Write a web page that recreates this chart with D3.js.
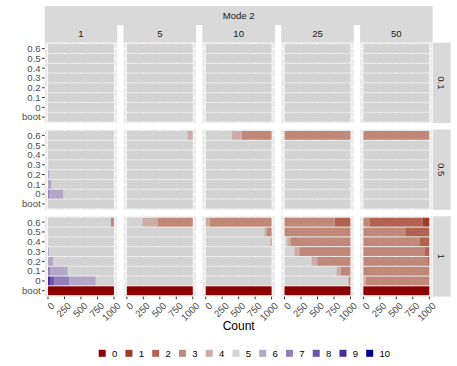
<!DOCTYPE html>
<html>
<head>
<meta charset="utf-8">
<script src="https://cdn.jsdelivr.net/npm/d3@7"></script>
<style>
  body { margin: 0; background: #fff; }
  text { font-family: "Liberation Sans", Arial, sans-serif; }
</style>
</head>
<body>
<div id="chart"></div>
<script>
// facets and categories
var modes = ["1", "5", "10", "25", "50"];
var rowLevels = ["0.1", "0.5", "1"];
var yLevels = ["boot", "0", "0.1", "0.2", "0.3", "0.4", "0.5", "0.6"];
var classes = [0, 1, 2, 3, 4, 5, 6, 7, 8, 9, 10];
var countTicks = [0, 250, 500, 750, 1000];
var minorTicks = [125, 375, 625, 875];

// each bar: "class:count" segments, left to right; one line per Mode 2 panel,
// bars in order boot, 0, 0.1, 0.2, 0.3, 0.4, 0.5, 0.6
var bars_0_1 = [
  ["5:1000", "5:1000", "5:1000", "5:1000", "5:1000", "5:1000", "5:1000", "5:1000"],
  ["5:1000", "5:1000", "5:1000", "5:1000", "5:1000", "5:1000", "5:1000", "5:1000"],
  ["5:1000", "5:1000", "5:1000", "5:1000", "5:1000", "5:1000", "5:1000", "5:1000"],
  ["5:1000", "5:1000", "5:1000", "5:1000", "5:1000", "5:1000", "5:1000", "5:1000"],
  ["5:1000", "5:1000", "5:1000", "5:1000", "5:1000", "5:1000", "5:1000", "5:1000"]
];
var bars_0_5 = [
  ["5:1000", "7:25 6:210 5:765", "6:55 5:945", "6:15 5:985", "6:5 5:995", "5:1000", "5:1000", "5:1000"],
  ["5:1000", "5:1000", "5:1000", "5:1000", "5:1000", "5:1000", "5:1000", "5:920 4:80"],
  ["5:1000", "5:1000", "5:1000", "5:1000", "5:1000", "5:1000", "5:1000", "5:400 4:150 3:450"],
  ["5:1000", "5:1000", "5:1000", "5:1000", "5:1000", "5:1000", "5:1000", "3:1000"],
  ["5:1000", "5:1000", "5:1000", "5:1000", "5:1000", "5:1000", "5:1000", "3:1000"]
];
var bars_1 = [
  ["0:1000", "9:30 8:60 7:230 6:405 5:275", "7:30 6:270 5:700", "6:80 5:920", "6:20 5:980", "5:1000", "5:1000", "5:955 3:45"],
  ["0:1000", "5:1000", "5:1000", "5:1000", "5:1000", "5:1000", "5:1000", "5:236 4:234 3:530"],
  ["0:1000", "5:1000", "5:1000", "5:1000", "5:1000", "5:985 3:15", "5:890 4:40 3:70", "4:60 3:940"],
  ["0:1000", "5:970 3:30", "5:790 4:60 3:150", "5:410 4:85 3:505", "5:150 4:75 3:775", "5:40 4:50 3:910", "3:1000", "3:760 2:240"],
  ["0:1000", "4:40 3:960", "3:1000", "3:980 2:20", "3:925 2:75", "3:850 2:150", "3:636 2:364", "3:100 2:800 1:100"]
];
var barsByRow = [bars_0_1, bars_0_5, bars_1];

var width = 457, height = 366;

var palette = d3.quantize(d3.interpolateLab("darkred", "lightgrey"), 6)
  .concat(d3.quantize(d3.interpolateLab("lightgrey", "darkblue"), 6).slice(1));
var color = d3.scaleOrdinal().domain(classes).range(palette);

var svg = d3.select("#chart").append("svg")
  .attr("width", width)
  .attr("height", height);

// facet layout
var gapX = 6.3, gapY = 6.5;
var fx = d3.scaleBand().domain(modes).range([44.7, 432.6])
  .paddingInner(gapX / ((432.6 - 44.7 + gapX) / modes.length));
var fy = d3.scaleBand().domain(rowLevels).range([42.7, 296.6])
  .paddingInner(gapY / ((296.6 - 42.7 + gapY) / rowLevels.length));
var pw = fx.bandwidth(), ph = fy.bandwidth();

var x = d3.scaleLinear().domain([0, 1000]).range([pw * 0.05 / 1.1, pw - pw * 0.05 / 1.1]);
var y = d3.scalePoint().domain(yLevels.slice().reverse()).range([0, ph]).padding(0.6);
var barH = y.step() * 0.9;

// strips on top
svg.append("rect")
  .attr("x", fx.range()[0]).attr("y", 6)
  .attr("width", fx.range()[1] - fx.range()[0]).attr("height", 19)
  .attr("fill", "#d9d9d9");
svg.append("text")
  .attr("x", (fx.range()[0] + fx.range()[1]) / 2).attr("y", 15.5)
  .attr("dy", "0.35em").attr("text-anchor", "middle")
  .attr("font-size", 9.6).attr("fill", "#1a1a1a")
  .text("Mode 2");

modes.forEach(function(m) {
  svg.append("rect")
    .attr("x", fx(m)).attr("y", 25)
    .attr("width", pw).attr("height", 17.7)
    .attr("fill", "#d9d9d9");
  svg.append("text")
    .attr("x", fx(m) + pw / 2).attr("y", 33.8)
    .attr("dy", "0.35em").attr("text-anchor", "middle")
    .attr("font-size", 9.6).attr("fill", "#1a1a1a")
    .text(m);
});

// strips on the right
rowLevels.forEach(function(r) {
  svg.append("rect")
    .attr("x", 433).attr("y", fy(r))
    .attr("width", 17.7).attr("height", ph)
    .attr("fill", "#d9d9d9");
  svg.append("text")
    .attr("transform", "translate(" + (433 + 8.85) + "," + (fy(r) + ph / 2) + ") rotate(90)")
    .attr("dy", "0.35em").attr("text-anchor", "middle")
    .attr("font-size", 9.6).attr("fill", "#1a1a1a")
    .text(r);
});

// panels
rowLevels.forEach(function(r, ri) {
  modes.forEach(function(m, mi) {
    var g = svg.append("g")
      .attr("transform", "translate(" + fx(m) + "," + fy(r) + ")");

    g.append("rect")
      .attr("width", pw).attr("height", ph)
      .attr("fill", "#ebebeb");

    g.selectAll(".minor").data(minorTicks).enter().append("line")
      .attr("x1", d => x(d)).attr("x2", d => x(d))
      .attr("y1", 0).attr("y2", ph)
      .attr("stroke", "#fff").attr("stroke-width", 0.5);
    g.selectAll(".major").data(countTicks).enter().append("line")
      .attr("x1", d => x(d)).attr("x2", d => x(d))
      .attr("y1", 0).attr("y2", ph)
      .attr("stroke", "#fff").attr("stroke-width", 1);
    g.selectAll(".hgrid").data(yLevels).enter().append("line")
      .attr("x1", 0).attr("x2", pw)
      .attr("y1", d => y(d)).attr("y2", d => y(d))
      .attr("stroke", "#fff").attr("stroke-width", 1);

    var segs = [];
    barsByRow[ri][mi].forEach(function(str, yi) {
      var start = 0;
      str.split(" ").forEach(function(s) {
        var p = s.split(":");
        var n = +p[1];
        segs.push({ y: yLevels[yi], cls: +p[0], x0: start, x1: start + n });
        start += n;
      });
    });

    g.selectAll(".seg").data(segs).enter().append("rect")
      .attr("x", d => x(d.x0))
      .attr("width", d => x(d.x1) - x(d.x0))
      .attr("y", d => y(d.y) - barH / 2)
      .attr("height", barH)
      .attr("fill", d => color(d.cls));

    // y axis on first column
    if (mi === 0) {
      yLevels.forEach(function(l) {
        svg.append("line")
          .attr("x1", fx(m) - 2.7).attr("x2", fx(m))
          .attr("y1", fy(r) + y(l)).attr("y2", fy(r) + y(l))
          .attr("stroke", "#333").attr("stroke-width", 1);
        svg.append("text")
          .attr("x", fx(m) - 4).attr("y", fy(r) + y(l))
          .attr("dy", "0.35em").attr("text-anchor", "end")
          .attr("font-size", 9.6).attr("fill", "#4d4d4d")
          .text(l);
      });
    }

    // x axis on last row
    if (ri === rowLevels.length - 1) {
      countTicks.forEach(function(t) {
        svg.append("line")
          .attr("x1", fx(m) + x(t)).attr("x2", fx(m) + x(t))
          .attr("y1", fy(r) + ph).attr("y2", fy(r) + ph + 2.7)
          .attr("stroke", "#333").attr("stroke-width", 1);
        svg.append("text")
          .attr("transform", "translate(" + (fx(m) + x(t) + 2.5) + "," + (fy(r) + ph + 5) + ") rotate(-45)")
          .attr("dy", "0.7em").attr("text-anchor", "end")
          .attr("font-size", 9.6).attr("fill", "#4d4d4d")
          .text(t);
      });
    }
  });
});

// axis title
svg.append("text")
  .attr("x", (fx.range()[0] + fx.range()[1]) / 2).attr("y", 326)
  .attr("dy", "0.35em").attr("text-anchor", "middle")
  .attr("font-size", 12).attr("fill", "#000")
  .text("Count");

// legend
var lx = d3.scalePoint().domain(classes).range([102.2, 369.7]);
var leg = svg.append("g").selectAll("g").data(classes).enter().append("g")
  .attr("transform", d => "translate(" + lx(d) + ",353.3)");
leg.append("rect")
  .attr("x", -3.5).attr("y", -3.5)
  .attr("width", 7).attr("height", 7)
  .attr("fill", d => color(d));
leg.append("text")
  .attr("x", 9.8).attr("dy", "0.35em")
  .attr("font-size", 9.6).attr("fill", "#000")
  .text(d => d);
</script>
</body>
</html>
